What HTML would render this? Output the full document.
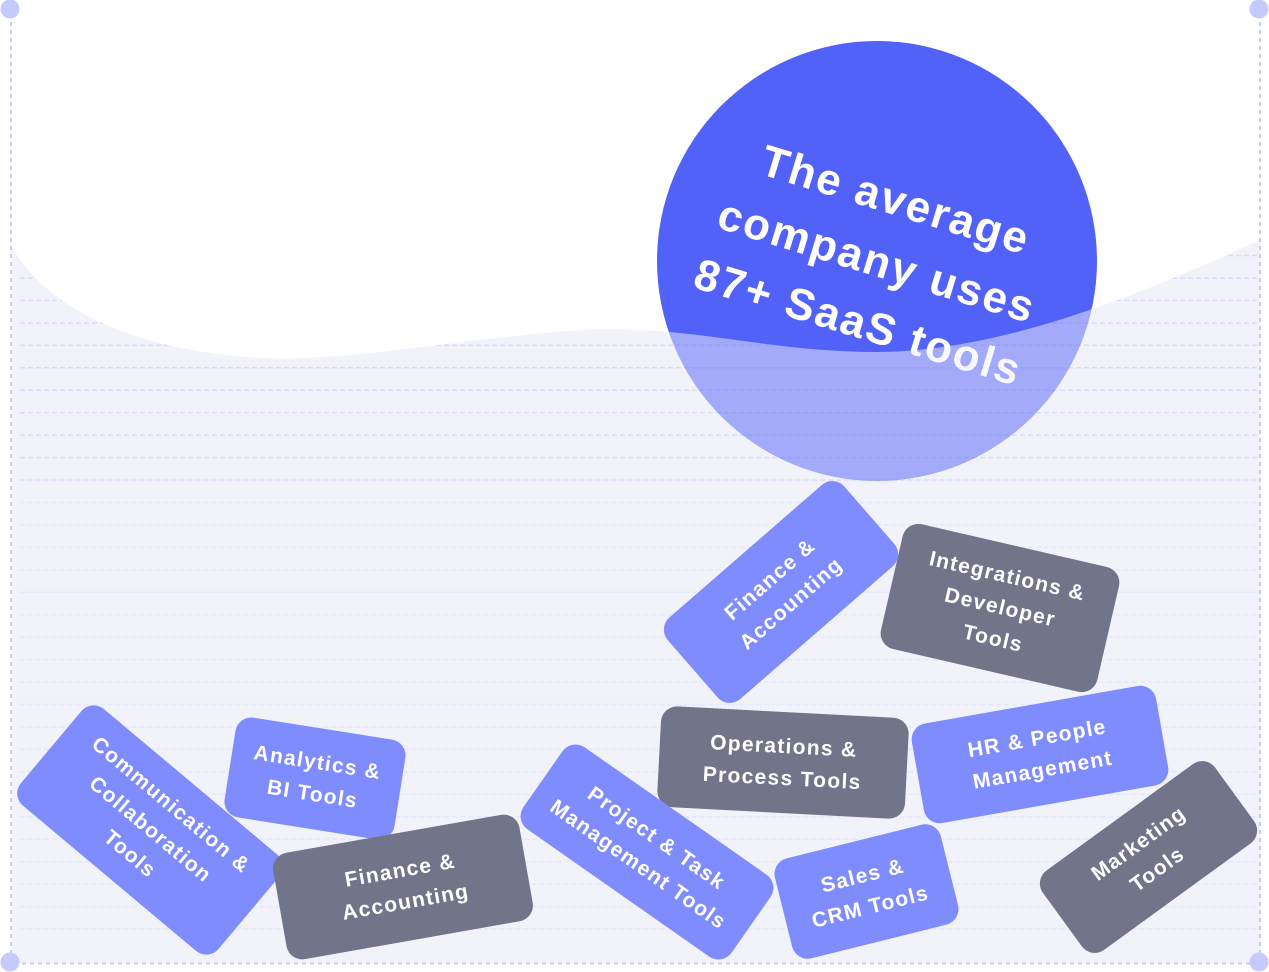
<!DOCTYPE html>
<html>
<head>
<meta charset="utf-8">
<style>
  html,body{margin:0;padding:0;}
  body{width:1269px;height:972px;overflow:hidden;background:#fff;position:relative;font-family:"Liberation Sans",Arial,sans-serif;}
  svg{position:absolute;left:0;top:0;}
  .b{position:absolute;display:flex;align-items:center;justify-content:center;text-align:center;color:#fff;font-weight:bold;font-size:21px;line-height:32px;letter-spacing:1.3px;border-radius:16px;white-space:nowrap;box-sizing:border-box;}
  .bl{background:#7f8cfe;}
  .gr{background:#727589;}
</style>
</head>
<body>
<svg width="1269" height="972" viewBox="0 0 1269 972" xmlns="http://www.w3.org/2000/svg">
  <defs>
    <clipPath id="wc">
      <path d="M11,245 C40,300 120,350 260,358 C350,362 450,340 580,330 C700,325 760,352 880,352 C1000,350 1130,300 1260,240 L1260,963 L11,963 Z"/>
    </clipPath>
  </defs>
  <path d="M11,245 C40,300 120,350 260,358 C350,362 450,340 580,330 C700,325 760,352 880,352 C1000,350 1130,300 1260,240 L1260,963 L11,963 Z" fill="#f2f2fb"/>
  <g clip-path="url(#wc)">
    <path fill="none" stroke="#d9dcfd" stroke-width="1.5" stroke-dasharray="5 3"
      d="M20,255.5H1257M20,278H1257M20,300.4H1257M20,322.9H1257M20,345.3H1257M20,367.8H1257M20,390.2H1257M20,412.7H1257M20,435.1H1257M20,457.6H1257M20,480H1257M20,502.5H1257M20,524.9H1257M20,547.4H1257M20,569.8H1257M20,592.3H1257M20,614.7H1257M20,637.2H1257M20,659.6H1257M20,682H1257M20,704.5H1257M20,727H1257M20,749.4H1257M20,771.9H1257M20,794.3H1257M20,816.8H1257M20,839.2H1257M20,861.7H1257M20,884.1H1257M20,906.6H1257M20,929H1257"/>
  </g>
  <circle cx="877" cy="261" r="220" fill="#5262f8"/>
  <g transform="translate(877,261) rotate(17)" font-family="Liberation Sans, Arial, sans-serif" font-weight="bold" font-size="44" fill="#ffffff" text-anchor="middle" style="letter-spacing:2px">
    <text x="0" y="-49">The average</text>
    <text x="0" y="15">company uses</text>
    <text x="0" y="79">87+ SaaS tools</text>
  </g>
  <g opacity="0.5">
    <path d="M11,245 C40,300 120,350 260,358 C350,362 450,340 580,330 C700,325 760,352 880,352 C1000,350 1130,300 1260,240 L1260,963 L11,963 Z" fill="#f2f2fb"/>
    <g clip-path="url(#wc)">
      <path fill="none" stroke="#d9dcfd" stroke-width="1.5" stroke-dasharray="5 3"
        d="M20,255.5H1257M20,278H1257M20,300.4H1257M20,322.9H1257M20,345.3H1257M20,367.8H1257M20,390.2H1257M20,412.7H1257M20,435.1H1257M20,457.6H1257M20,480H1257"/>
    </g>
  </g>
  <g fill="none" stroke="#c5cafd" stroke-width="2" stroke-dasharray="4 4">
    <path d="M11,22V958"/>
    <path d="M1260,22V958"/>
    <path d="M22,963.5H1250"/>
  </g>
  <g fill="#c5cafd">
    <circle cx="10" cy="9" r="9.5"/>
    <circle cx="1259" cy="9" r="9.5"/>
    <circle cx="10" cy="962" r="9.5"/>
    <circle cx="1259" cy="962" r="9.5"/>
  </g>
</svg>

<div class="b bl" style="left:664px;top:538px;width:234px;height:108px;transform:rotate(-41deg);">Finance &amp;<br>Accounting</div>
<div class="b gr" style="left:889px;top:544px;width:222px;height:128px;transform:rotate(13deg);">Integrations &amp;<br>Developer<br>Tools</div>
<div class="b gr" style="left:659px;top:711.5px;width:248px;height:101px;transform:rotate(3deg);">Operations &amp;<br>Process Tools</div>
<div class="b bl" style="left:916px;top:703.5px;width:248px;height:101px;transform:rotate(-10deg);">HR &amp; People<br>Management</div>
<div class="b bl" style="left:229px;top:727.5px;width:172px;height:101px;transform:rotate(9deg);">Analytics &amp;<br>BI Tools</div>
<div class="b bl" style="left:21px;top:767px;width:258px;height:126px;transform:rotate(40deg);">Communication &amp;<br>Collaboration<br>Tools</div>
<div class="b gr" style="left:278px;top:833px;width:250px;height:108px;transform:rotate(-10deg);">Finance &amp;<br>Accounting</div>
<div class="b bl" style="left:520px;top:802px;width:254px;height:100px;transform:rotate(35deg);">Project &amp; Task<br>Management Tools</div>
<div class="b bl" style="left:780.5px;top:839.5px;width:171px;height:103px;transform:rotate(-14deg);">Sales &amp;<br>CRM Tools</div>
<div class="b gr" style="left:1042px;top:808px;width:213px;height:98px;transform:rotate(-36deg);">Marketing<br>Tools</div>
</body>
</html>
